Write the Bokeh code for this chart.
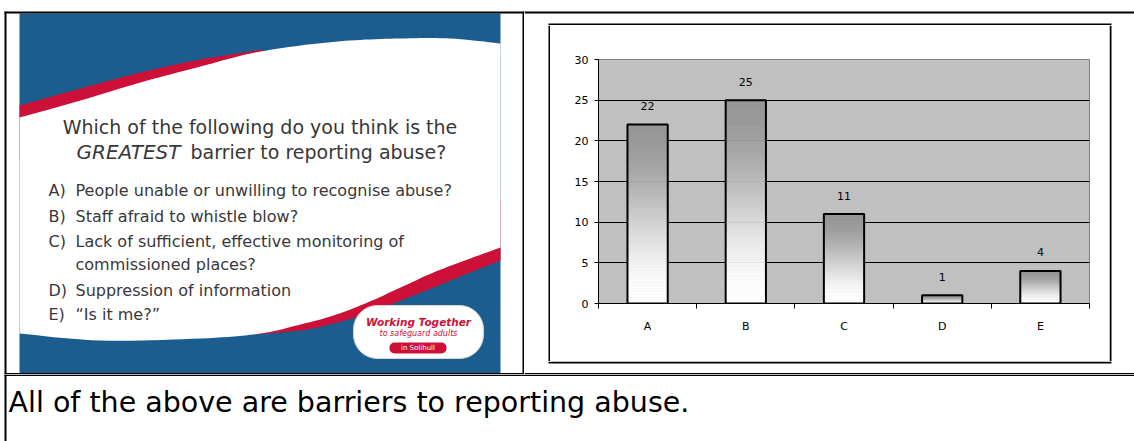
from bokeh.plotting import figure
from bokeh.models import Range1d, FixedTicker, ColumnDataSource
from bokeh.layouts import row, column
from bokeh.embed import file_html
from bokeh.resources import INLINE
from bokeh.core.properties import value

# ---------------- data ----------------
categories = ["A", "B", "C", "D", "E"]
responses = [22, 25, 11, 1, 4]
y_ticks = [0, 5, 10, 15, 20, 25, 30]

question_line1 = "Which of the following do you think is the"
question_emph = "GREATEST"
question_rest = "barrier to reporting abuse?"
option_letters = ["A)", "B)", "C)", "", "D)", "E)"]
option_texts = ["People unable or unwilling to recognise abuse?",
                "Staff afraid to whistle blow?",
                "Lack of sufficient, effective monitoring of",
                "commissioned places?",
                "Suppression of information",
                "\u201cIs it me?\u201d"]
conclusion = "All of the above are barriers to reporting abuse."

FONT = "DejaVu Sans"
BLUE = "#1A5D8E"
RED = "#CC1038"
TXT = "#383838"


def smooth(xs, ys, n=10):
    pts = list(zip(xs, ys))
    ox, oy = [], []
    for i in range(len(pts) - 1):
        p0 = pts[max(i - 1, 0)]
        p1 = pts[i]
        p2 = pts[i + 1]
        p3 = pts[min(i + 2, len(pts) - 1)]
        for k in range(n):
            t = k / n
            t2, t3 = t * t, t * t * t
            res = []
            for d in range(2):
                res.append(0.5 * (2 * p1[d] + (-p0[d] + p2[d]) * t
                                  + (2 * p0[d] - 5 * p1[d] + 4 * p2[d] - p3[d]) * t2
                                  + (-p0[d] + 3 * p1[d] - 3 * p2[d] + p3[d]) * t3))
            ox.append(res[0])
            oy.append(res[1])
    ox.append(pts[-1][0])
    oy.append(pts[-1][1])
    return ox, oy


def canvas(x0, x1, y0, y1):
    f = figure(width=x1 - x0, height=y1 - y0, x_range=Range1d(x0, x1), y_range=Range1d(y1, y0),
               output_backend="svg", toolbar_location=None, min_border=0,
               x_axis_location=None, y_axis_location=None, outline_line_color=None,
               background_fill_color="white", border_fill_color="white", frame_align=False)
    f.grid.visible = False
    return f


def bar(f, l, r, t, b):
    f.quad(left=l, right=r, top=t, bottom=b, fill_color="black", line_color=None)


# ---------------- left cell: slide ----------------
left = canvas(0, 524, 0, 374)
left.quad(left=19, right=500, top=13, bottom=372.5, fill_color=BLUE, line_color=None)

rtx, rty = smooth([19, 80, 140, 200, 262], [105, 88, 72, 59, 49])
left.patch(rtx + [262, 19], rty + [140, 160], fill_color=RED, line_color=None)
bx, by = smooth([255, 300, 333, 367, 400, 433, 467, 500], [334, 330, 323, 313, 300, 287, 273, 260])
left.patch(bx + [500, 255], by + [200, 300], fill_color=RED, line_color=None)

tx, ty = smooth([19, 80, 140, 200, 250, 300, 350, 400, 450, 500],
                [117, 100, 82, 66, 53, 45, 40, 38, 38, 43])
wx, wy = smooth([500, 467, 433, 400, 367, 333, 300, 260, 200, 100, 19],
                [247, 259, 272, 287, 302, 315, 324, 333, 338, 340, 333])
left.patch(tx + wx, ty + wy, fill_color="white", line_color=None)

left.text(x=[259.5], y=[126], text=[question_line1], text_align="center", text_baseline="middle",
          text_font=value(FONT), text_font_size="19px", text_color=TXT)
left.text(x=[76], y=[151], text=[question_emph], text_align="left", text_baseline="middle",
          text_font=value(FONT), text_font_size="20px", text_font_style="italic", text_color=TXT)
left.text(x=[190], y=[151], text=[question_rest], text_align="left", text_baseline="middle",
          text_font=value(FONT), text_font_size="19px", text_color=TXT)

opt_y = [190, 216, 241, 264, 290, 314]
left.text(x=[48] * len(option_letters), y=opt_y, text=option_letters, text_align="left",
          text_baseline="middle", text_font=value(FONT), text_font_size="16px", text_color=TXT)
left.text(x=[75] * len(option_texts), y=opt_y, text=option_texts, text_align="left",
          text_baseline="middle", text_font=value(FONT), text_font_size="16px", text_color=TXT)

# logo
left.quad(left=353, right=483, top=305, bottom=358, fill_color="white", line_color="#d8d8d8",
          line_width=1, border_radius=24)
left.text(x=[418], y=[321], text=["Working Together"], text_align="center", text_baseline="middle",
          text_font=value(FONT), text_font_size="10.5px", text_font_style="bold italic", text_color=RED)
left.text(x=[418], y=[333], text=["to safeguard adults"], text_align="center", text_baseline="middle",
          text_font=value(FONT), text_font_size="8px", text_font_style="italic", text_color=RED)
left.quad(left=389, right=446, top=342, bottom=353, fill_color=RED, line_color=None, border_radius=5)
left.text(x=[417.5], y=[347.5], text=["in Solihull"], text_align="center", text_baseline="middle",
          text_font=value(FONT), text_font_size="7px", text_color="white")

# table lines
bar(left, 4, 524, 11, 13)
bar(left, 4, 6, 11, 374)
bar(left, 522, 524, 11, 374)
bar(left, 4, 524, 372.5, 374)

# ---------------- right cell: chart with its frame ----------------
top_strip = canvas(524, 1134, 0, 25)
bar(top_strip, 524, 1134, 11, 13)
bar(top_strip, 548, 1111, 23, 25)

lstrip = canvas(524, 550, 25, 361)
bar(lstrip, 548, 550, 25, 361)
rstrip = canvas(1109, 1134, 25, 361)
bar(rstrip, 1109, 1111, 25, 361)

bot_strip = canvas(524, 1134, 361, 374)
bar(bot_strip, 548, 1111, 361, 363)
bar(bot_strip, 524, 1134, 372.5, 374)

n = len(categories)
p = figure(width=559, height=336, x_range=Range1d(0, n), y_range=Range1d(y_ticks[0], y_ticks[-1]),
           output_backend="svg", toolbar_location=None, frame_align=False,
           min_border_left=48, min_border_right=20, min_border_top=34, min_border_bottom=58,
           background_fill_color="#C0C0C0", border_fill_color="white",
           outline_line_color="#808080", outline_line_width=1)

centers = [i + 0.5 for i in range(n)]
bounds = list(range(n + 1))
bar_w = 0.41

N = 60
sl = dict(left=[], right=[], top=[], bottom=[], color=[])
for c, v in zip(centers, responses):
    for k in range(N):
        b = v * k / N
        t = v * (k + 1) / N
        f = 1 - (k + 0.5) / N          # fraction from the top
        s = 3 * f * f - 2 * f ** 3
        g = int(round(150 + 105 * s))
        sl["left"].append(c - bar_w / 2)
        sl["right"].append(c + bar_w / 2)
        sl["bottom"].append(b)
        sl["top"].append(t)
        sl["color"].append("#%02x%02x%02x" % (g, g, g))
p.quad(left="left", right="right", top="top", bottom="bottom", fill_color="color",
       line_color="color", line_width=0.6, source=ColumnDataSource(sl))
p.vbar(x=centers, top=responses, width=bar_w, bottom=0, fill_color=None,
       line_color="black", line_width=2)

p.text(x=centers, y=responses, text=[str(v) for v in responses], y_offset=-18.5,
       text_align="center", text_baseline="middle", text_font=value(FONT),
       text_font_size="11px", text_color="black")

p.xgrid.visible = False
p.ygrid.ticker = FixedTicker(ticks=y_ticks[1:-1])
p.ygrid.grid_line_color = "black"
p.ygrid.grid_line_width = 1

xa = p.xaxis[0]
xa.ticker = FixedTicker(ticks=centers, minor_ticks=bounds)
xa.major_label_overrides = {c: cat for c, cat in zip(centers, categories)}
xa.major_tick_out = 0
xa.major_tick_in = 0
xa.minor_tick_out = 5
xa.minor_tick_in = 0
xa.minor_tick_line_color = "black"
xa.major_label_standoff = 11
xa.axis_line_color = "black"

ya = p.yaxis[0]
ya.ticker = FixedTicker(ticks=y_ticks)
ya.major_tick_out = 4
ya.major_tick_in = 0
ya.major_tick_line_color = "black"
ya.minor_tick_line_color = None
ya.major_label_standoff = 6
ya.axis_line_color = "black"

for ax in (xa, ya):
    ax.major_label_text_font = FONT
    ax.major_label_text_font_size = "11px"
    ax.major_label_text_color = "black"

right_cell = column(top_strip, row(lstrip, p, rstrip, spacing=0), bot_strip, spacing=0)

# ---------------- bottom row ----------------
bot = canvas(0, 1134, 374, 441)
bar(bot, 4, 1134, 374, 375.5)
bar(bot, 4, 6, 374, 441)
bot.text(x=[8], y=[402], text=[conclusion], text_align="left", text_baseline="alphabetic",
         text_font=value(FONT), text_font_size="28.5px", text_color="black")

layout = column(row(left, right_cell, spacing=0), bot, spacing=0)
open("out.html", "w").write(file_html(layout, INLINE))
